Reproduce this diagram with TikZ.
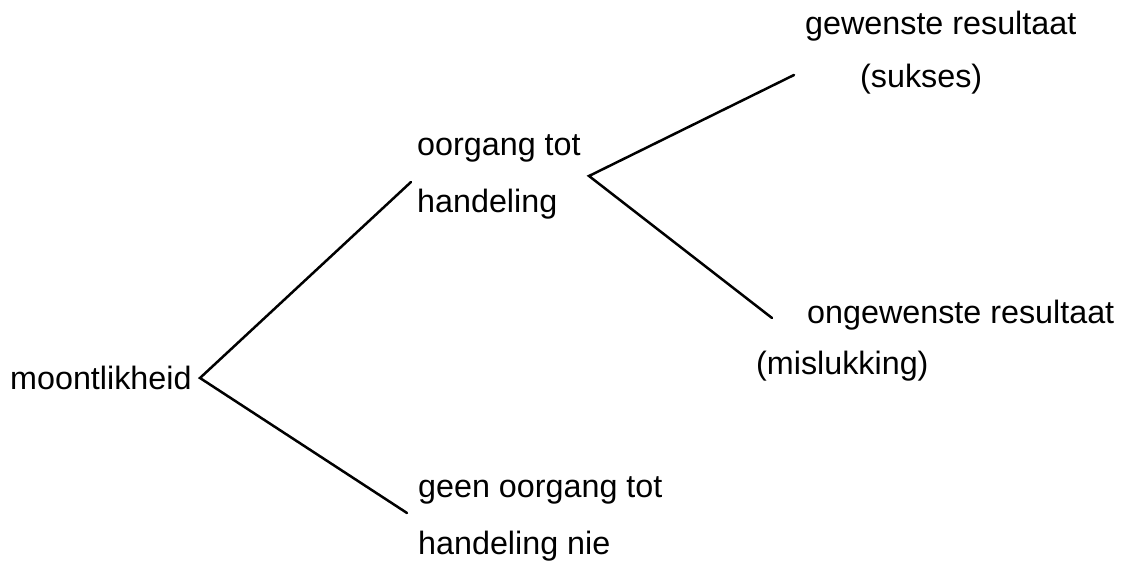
\documentclass[tikz,border=0pt]{standalone}
\usepackage{fontspec}
\setmainfont{Liberation Sans}
\begin{document}
\begin{tikzpicture}[x=1pt,y=-1pt,
  lbl/.style={anchor=base west,inner sep=0pt,font=\fontsize{32.3}{38}\selectfont},
  branch/.style={line width=2.5pt,line cap=round,line join=miter}]
\useasboundingbox (0,0) rectangle (1127,564);
\node[lbl] (moont) at (10,389) {moontlikheid};
\node[lbl] (oor1) at (417,156) {oorgang tot};
\node[lbl] (oor2) at (417,213) {handeling};
\node[lbl] (geen1) at (418,497) {geen oorgang tot};
\node[lbl] (geen2) at (418,554) {handeling nie};
\node[lbl] (gew1) at (805,35) {gewenste resultaat};
\node[lbl] (gew2) at (860,88) {(sukses)};
\node[lbl] (ong1) at (807,323) {ongewenste resultaat};
\node[lbl] (ong2) at (756,374) {(mislukking)};
\coordinate (va) at (200,378);
\coordinate (ea) at (411,182);
\coordinate (eb) at (407,513);
\coordinate (vb) at (589,176);
\coordinate (ec) at (794,75);
\coordinate (ed) at (772,318);
\draw[branch] (ea) -- (va) -- (eb);
\draw[branch] (ec) -- (vb) -- (ed);
\end{tikzpicture}
\end{document}
